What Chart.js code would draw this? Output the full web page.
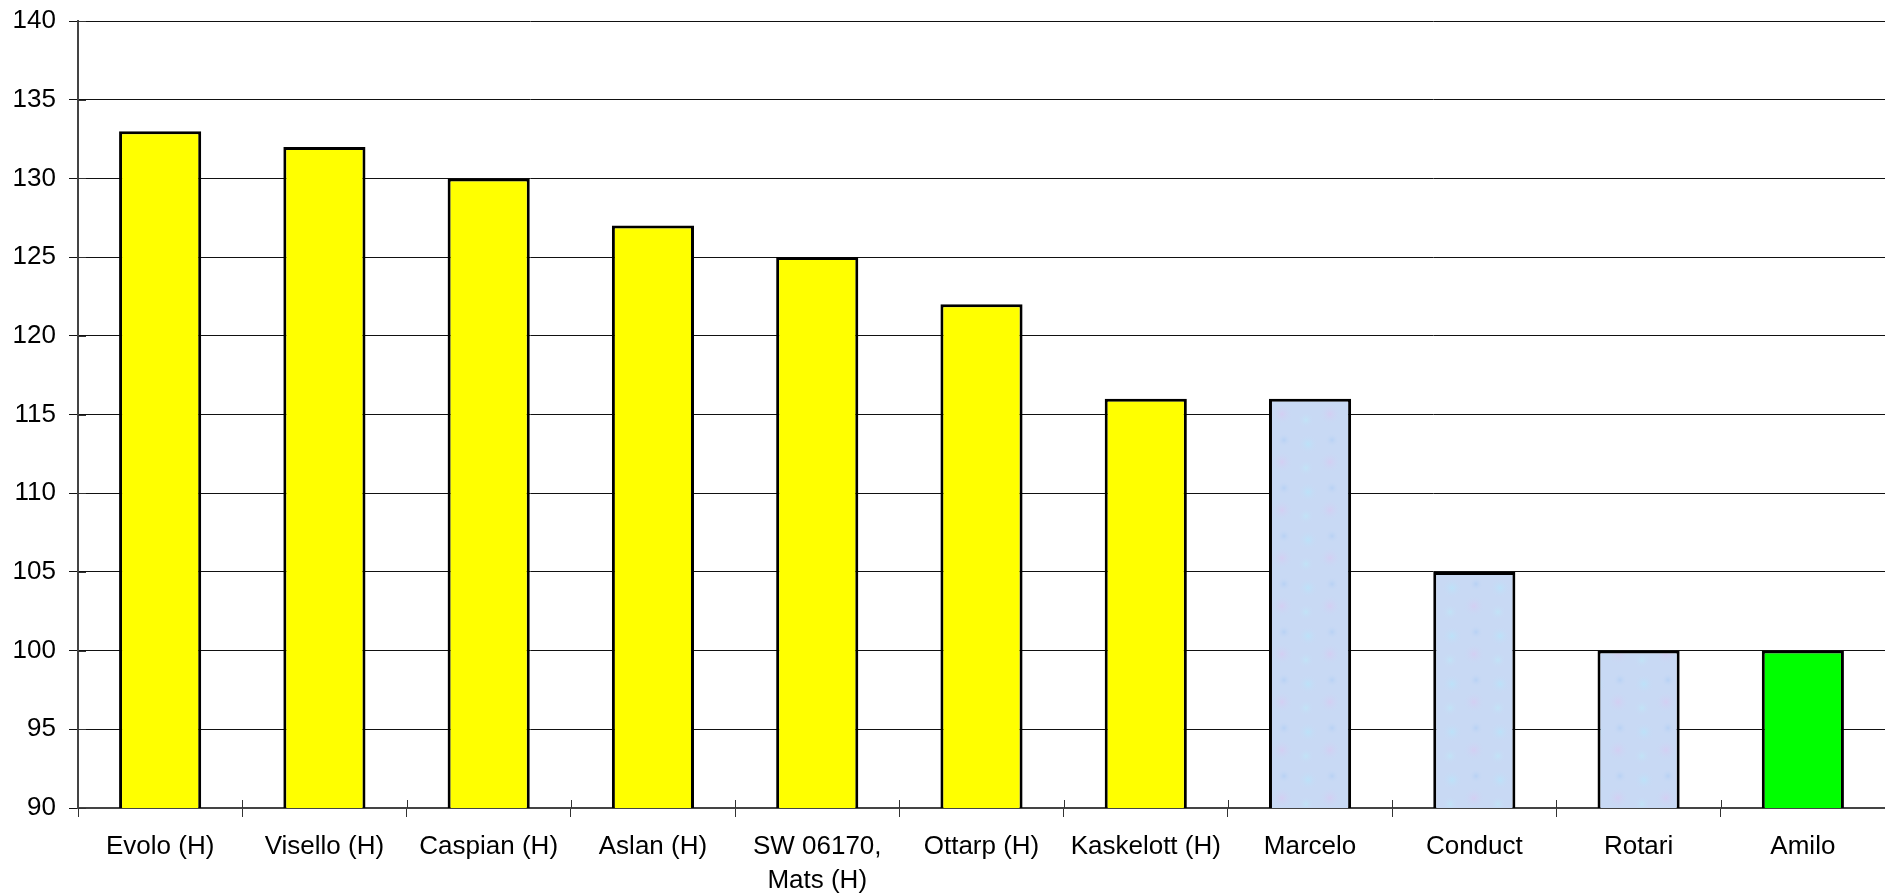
<!DOCTYPE html>
<html>
<head>
<meta charset="utf-8">
<script src="https://cdn.jsdelivr.net/npm/chart.js@4.4.0/dist/chart.umd.min.js"></script>
<style>
  html, body { margin: 0; padding: 0; background: #fff; }
  #wrap { width: 1885px; height: 895px; }
</style>
</head>
<body>
<div id="wrap"><canvas id="chart" width="1885" height="895"></canvas></div>
<script>
const categories = [
  "Evolo (H)", "Visello (H)", "Caspian (H)", "Aslan (H)", ["SW 06170,", "Mats (H)"],
  "Ottarp (H)", "Kaskelott (H)", "Marcelo", "Conduct", "Rotari", "Amilo"
];
const values = [133, 132, 130, 127, 125, 122, 116, 116, 105, 100, 100];
const groups = ["h", "h", "h", "h", "h", "h", "h", "other", "other", "other", "ref"];
const yMin = 90, yMax = 140, yStep = 5;

const fontFamily = "'Liberation Sans', Arial, sans-serif";

// pale blue/lilac fill used for the non-(H) varieties
function paleFill(ctx) {
  const c = document.createElement("canvas");
  c.width = 48; c.height = 48;
  const g = c.getContext("2d");
  g.fillStyle = "#c8d9f4";
  g.fillRect(0, 0, 48, 48);
  const blob = (x, y, r, col) => {
    const gr = g.createRadialGradient(x, y, 0, x, y, r);
    gr.addColorStop(0, col);
    gr.addColorStop(1, "rgba(200,217,244,0)");
    g.fillStyle = gr;
    g.fillRect(x - r, y - r, r * 2, r * 2);
  };
  blob(12, 12, 10, "rgba(185,228,250,0.8)");
  blob(34, 30, 11, "rgba(214,204,242,0.8)");
  blob(36, 8, 7, "rgba(176,206,244,0.7)");
  blob(10, 36, 8, "rgba(190,232,248,0.7)");
  return ctx.createPattern(c, "repeat");
}

// short tick marks reaching into the plot, as in the original
const innerTicks = {
  id: "innerTicks",
  afterDatasetsDraw(chart) {
    const { ctx, scales: { x, y }, chartArea } = chart;
    ctx.save();
    ctx.strokeStyle = "#333";
    ctx.lineWidth = 1;
    ctx.beginPath();
    const n = x.ticks.length;
    for (let i = 1; i < n; i++) {
      const px = Math.round((x.getPixelForTick(i) + x.getPixelForTick(i - 1)) / 2) + 0.5;
      ctx.moveTo(px, chartArea.bottom);
      ctx.lineTo(px, chartArea.bottom - 8);
    }
    y.ticks.forEach((t, i) => {
      const py = Math.round(y.getPixelForTick(i)) + 0.5;
      ctx.moveTo(chartArea.left, py);
      ctx.lineTo(chartArea.left + 8, py);
    });
    ctx.stroke();
    ctx.restore();
  }
};

const ctx = document.getElementById("chart").getContext("2d");
const pale = paleFill(ctx);
const fillFor = { h: "#ffff00", other: pale, ref: "#00ff00" };

new Chart(ctx, {
  type: "bar",
  plugins: [innerTicks],
  data: {
    labels: categories,
    datasets: [{
      data: values,
      backgroundColor: groups.map(g => fillFor[g]),
      borderColor: "#000",
      borderWidth: 3,
      barPercentage: 0.5,
      categoryPercentage: 1.0
    }]
  },
  options: {
    responsive: false,
    animation: false,
    layout: { padding: { top: 21, right: 0, left: 0, bottom: 0 } },
    plugins: { legend: { display: false }, tooltip: { enabled: false } },
    scales: {
      x: {
        offset: true,
        grid: {
          offset: true,
          drawOnChartArea: false,
          drawTicks: true,
          tickLength: 9,
          color: "#333",
          lineWidth: 1
        },
        border: { color: "#444", width: 2 },
        ticks: {
          color: "#000",
          padding: 13,
          maxRotation: 0,
          autoSkip: false,
          font: { family: fontFamily, size: 26, lineHeight: 1.3 }
        },
        afterFit(scale) { scale.height = 87; }
      },
      y: {
        min: yMin,
        max: yMax,
        grid: { color: "#111", lineWidth: 1, tickLength: 9 },
        border: { color: "#444", width: 2 },
        ticks: {
          stepSize: yStep,
          color: "#000",
          padding: 13,
          font: { family: fontFamily, size: 26 }
        },
        afterFit(scale) { scale.width = 78; scale.paddingTop = 0; }
      }
    }
  }
});
</script>
</body>
</html>
